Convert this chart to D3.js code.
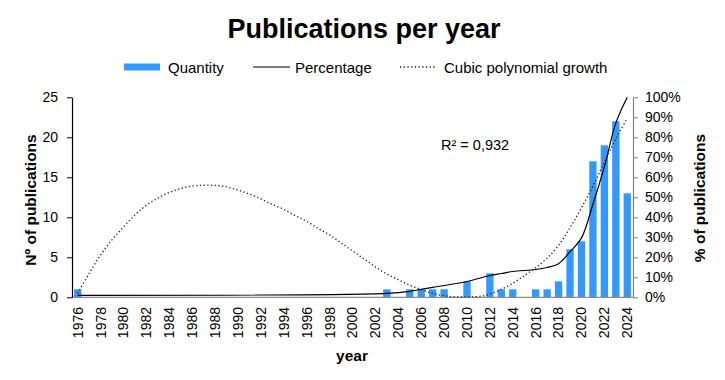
<!DOCTYPE html>
<html>
<head>
<meta charset="utf-8">
<script src="https://cdn.jsdelivr.net/npm/d3@7"></script>
<style>
  html, body { margin: 0; padding: 0; background: #fff; }
  svg { display: block; font-family: "Liberation Sans", Arial, sans-serif; }
</style>
</head>
<body>
<svg id="chart" width="725" height="380"></svg>
<script>
// ---- data ----
const years = ["1976","1977","1978","1979","1980","1981","1982","1983","1984","1985",
  "1986","1987","1988","1989","1990","1991","1992","1993","1994","1995",
  "1996","1997","1998","1999","2000","2001","2002","2003","2004","2005",
  "2006","2007","2008","2009","2010","2011","2012","2013","2014","2015",
  "2016","2017","2018","2019","2020","2021","2022","2023","2024"];
const quantity = [1,0,0,0,0,0,0,0,0,0,
  0,0,0,0,0,0,0,0,0,0,
  0,0,0,0,0,0,0,1,0,1,
  1,1,1,0,2,0,3,1,1,0,
  1,1,2,6,7,17,19,22,13];
// cumulative % (only for years with publications; others left empty)
const percentage = [1.0,null,null,null,null,null,null,null,null,null,
  null,null,null,null,null,null,null,null,null,null,
  null,null,null,null,null,null,null,2.0,null,3.0,
  4.0,5.0,5.9,null,7.9,null,10.9,11.9,12.9,null,
  13.9,14.9,16.8,22.8,29.7,46.5,65.3,87.1,100];
const cubicTrend = [0.5,3.0,5.3,7.2,8.8,10.3,11.5,12.4,13.1,13.6,
  13.9,14.0,14.0,13.8,13.4,12.9,12.3,11.6,11.0,10.2,
  9.5,8.6,7.8,6.8,5.8,4.8,3.8,2.9,2.2,1.5,
  1.0,0.5,0.2,0.05,0.05,0.1,0.4,1.0,1.75,2.7,
  3.7,4.9,6.5,8.7,11.2,13.9,16.9,19.8,22.4];
const leftTicks = [0,5,10,15,20,25];
const rightTicks = [0,10,20,30,40,50,60,70,80,90,100];
const xTickLabels = years.filter((y, i) => i % 2 === 0);
const r2Label = "R² = 0,932";

// ---- layout ----
const svg = d3.select("#chart");
const L = 72, R = 633, T = 97.3, B = 297.3;

const x = d3.scaleBand().domain(years).range([L, R]).paddingInner(0.36).paddingOuter(0.18);
const yL = d3.scaleLinear().domain([0, 25]).range([B, T]);
const yR = d3.scaleLinear().domain([0, 100]).range([B, T]);
const cx = d => x(d) + x.bandwidth() / 2;

// title
svg.append("text").attr("x", 364).attr("y", 38).attr("text-anchor", "middle")
  .attr("font-size", 27).attr("font-weight", "bold").text("Publications per year");

// legend
const lg = svg.append("g");
lg.append("rect").attr("x", 124).attr("y", 63.5).attr("width", 36).attr("height", 7).attr("fill", "#3399ff");
lg.append("text").attr("x", 168).attr("y", 72.5).attr("font-size", 15).text("Quantity");
lg.append("line").attr("x1", 253).attr("x2", 290).attr("y1", 67).attr("y2", 67).attr("stroke", "#000").attr("stroke-width", 1.2);
lg.append("text").attr("x", 295).attr("y", 72.5).attr("font-size", 15).text("Percentage");
lg.append("line").attr("x1", 400).attr("x2", 437).attr("y1", 67).attr("y2", 67).attr("stroke", "#222")
  .attr("stroke-width", 1.3).attr("stroke-dasharray", "1.3,2.4");
lg.append("text").attr("x", 444).attr("y", 72.5).attr("font-size", 15).text("Cubic polynomial growth");

// bars
svg.append("g").selectAll("rect").data(years).join("rect")
  .attr("x", d => x(d))
  .attr("width", x.bandwidth())
  .attr("y", (d, i) => yL(quantity[i]))
  .attr("height", (d, i) => B - yL(quantity[i]))
  .attr("fill", "#3399ff");

// bottom axis line
svg.append("line").attr("x1", L).attr("x2", R).attr("y1", B).attr("y2", B)
  .attr("stroke", "#8c8c8c").attr("stroke-width", 1.3);

// percentage line (gaps connected)
const pctPts = years.map((d, i) => ({ year: d, v: percentage[i] })).filter(p => p.v !== null);
svg.append("path").datum(pctPts)
  .attr("fill", "none").attr("stroke", "#000").attr("stroke-width", 1.2)
  .attr("d", d3.line().x(p => cx(p.year)).y(p => yR(p.v)).curve(d3.curveCatmullRom));

// cubic trendline (primary axis)
svg.append("path").datum(years)
  .attr("fill", "none").attr("stroke", "#222").attr("stroke-width", 1.3)
  .attr("stroke-dasharray", "1.3,2.4")
  .attr("d", d3.line().x(d => cx(d)).y((d, i) => yL(cubicTrend[i])).curve(d3.curveCatmullRom));

// left axis
const axL = svg.append("g").attr("transform", `translate(${L},0)`)
  .call(d3.axisLeft(yL).tickValues(leftTicks).tickSize(5).tickPadding(9).tickSizeOuter(0));
axL.select(".domain").attr("stroke", "#000").attr("stroke-width", 1.2);
axL.selectAll(".tick line").attr("stroke", "#000");
axL.selectAll("text").attr("font-size", 14).attr("font-family", "Liberation Sans, Arial, sans-serif").attr("fill", "#000");

// right axis
const axR = svg.append("g").attr("transform", `translate(${R},0)`)
  .call(d3.axisRight(yR).tickValues(rightTicks).tickFormat(d => d + "%").tickSize(5).tickPadding(7).tickSizeOuter(0));
axR.select(".domain").attr("stroke", "#808080").attr("stroke-width", 1.2);
axR.selectAll(".tick line").attr("stroke", "#808080");
axR.selectAll("text").attr("font-size", 14).attr("font-family", "Liberation Sans, Arial, sans-serif").attr("fill", "#000");

// x labels
svg.append("g").selectAll("text").data(xTickLabels).join("text")
  .attr("transform", d => `translate(${cx(d)},307) rotate(-90)`)
  .attr("text-anchor", "end").attr("dy", "0.35em")
  .attr("font-size", 14).text(d => d);

// axis titles
svg.append("text").attr("transform", "translate(31,200) rotate(-90)").attr("text-anchor", "middle")
  .attr("dy", "0.35em").attr("font-size", 15.5).attr("font-weight", "bold").text("Nº of publications");
svg.append("text").attr("transform", "translate(700,198) rotate(-90)").attr("text-anchor", "middle")
  .attr("dy", "0.35em").attr("font-size", 15.5).attr("font-weight", "bold").text("% of publications");
svg.append("text").attr("x", 352).attr("y", 361).attr("text-anchor", "middle")
  .attr("font-size", 15.5).attr("font-weight", "bold").text("year");

// R² label
svg.append("text").attr("x", 441).attr("y", 150).attr("font-size", 14.5).text(r2Label);
</script>
</body>
</html>
